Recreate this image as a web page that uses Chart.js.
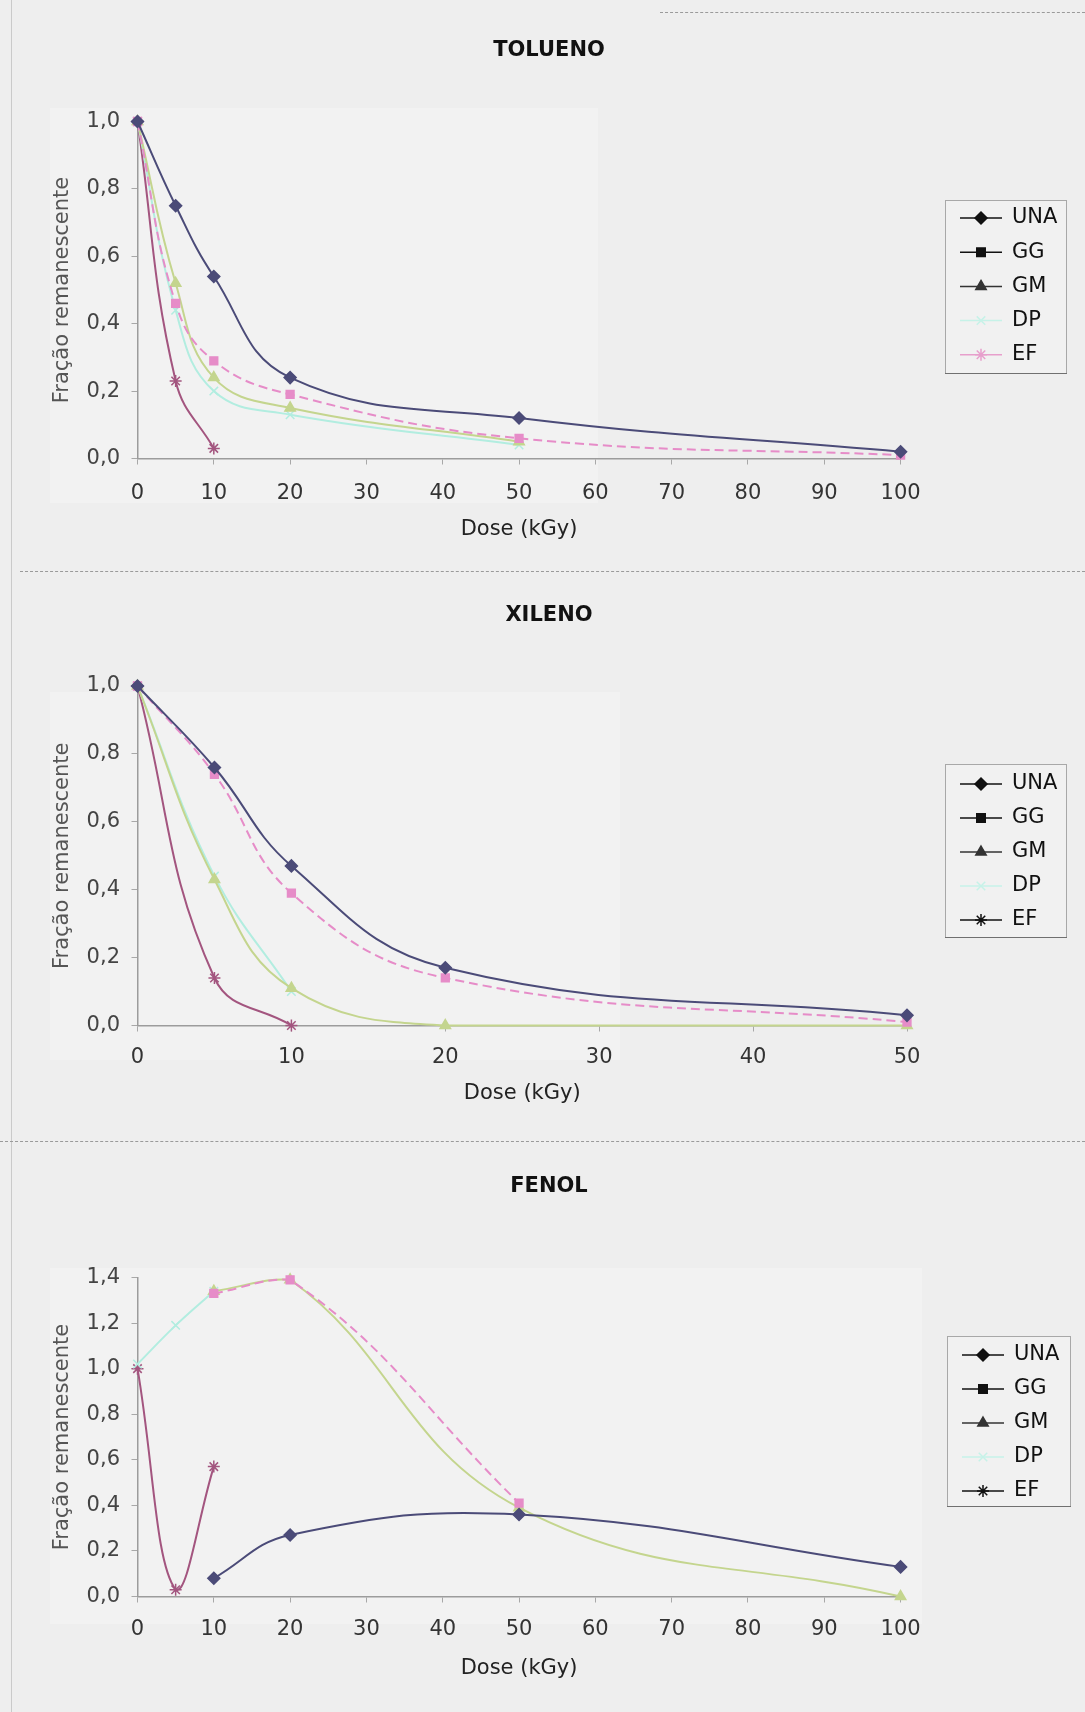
<!DOCTYPE html>
<html lang="pt">
<head>
<meta charset="utf-8">
<title>Fração remanescente x Dose</title>
<script src="https://cdn.jsdelivr.net/npm/chart.js@4.4.1/dist/chart.umd.min.js"></script>
<style>
  html, body { margin: 0; padding: 0; background: #eeeeee; }
  body { width: 1085px; height: 1712px; position: relative; overflow: hidden; }
  .painel { position: absolute; left: 0; width: 1085px; }
  .painel canvas { display: block; }
  .fundo { position: absolute; background: #f2f2f2; }
  .sep { position: absolute; left: 0; width: 1085px; height: 0; border-top: 1px dashed #9a9a9a; }
  .borda-esq { position: absolute; left: 11px; top: 0; width: 0; height: 1712px; border-left: 1px solid #cacaca; }
</style>
</head>
<body>
<div class="borda-esq"></div>
<div class="sep" style="top:12px; left:660px; width:425px;"></div>
<div class="sep" style="top:571px; left:20px; width:1065px;"></div>
<div class="sep" style="top:1141px;"></div>

<div class="fundo" style="left:50px; top:108px; width:548px; height:395px;"></div>
<div class="fundo" style="left:50px; top:692px; width:570px; height:368px;"></div>
<div class="fundo" style="left:50px; top:1268px; width:872px; height:356px;"></div>

<div class="painel" style="top:0; height:571px;"><canvas id="tolueno" width="1085" height="571"></canvas></div>
<div class="painel" style="top:571px; height:570px;"><canvas id="xileno" width="1085" height="570"></canvas></div>
<div class="painel" style="top:1141px; height:571px;"><canvas id="fenol" width="1085" height="571"></canvas></div>

<script>
// séries (mesma ordem em todos os gráficos)
const series = ['UNA', 'GG', 'GM', 'DP', 'EF'];

// TOLUENO
const dosesTolueno = [0, 5, 10, 20, 50, 100];
const toluenoUNA = [1.00, 0.75, 0.54, 0.24, 0.12, 0.02];
const toluenoGG  = [1.00, 0.46, 0.29, 0.19, 0.06, 0.01];
const toluenoGM  = [1.00, 0.52, 0.24, 0.15, 0.05, null];
const toluenoDP  = [1.00, 0.44, 0.20, 0.13, 0.04, null];
const toluenoEF  = [1.00, 0.23, 0.03, null, null, null];

// XILENO
const dosesXileno = [0, 5, 10, 20, 50];
const xilenoUNA = [1.00, 0.76, 0.47, 0.17, 0.03];
const xilenoGG  = [1.00, 0.74, 0.39, 0.14, 0.01];
const xilenoGM  = [1.00, 0.43, 0.11, 0.00, 0.00];
const xilenoDP  = [1.00, 0.44, 0.10, null, null];
const xilenoEF  = [1.00, 0.14, 0.00, null, null];

// FENOL
const dosesFenol = [0, 5, 10, 20, 50, 100];
const fenolUNA = [null, null, 0.08, 0.27, 0.36, 0.13];
const fenolGG  = [null, null, 1.33, 1.39, 0.41, null];
const fenolGM  = [null, null, 1.34, 1.39, 0.39, 0.00];
const fenolDP  = [1.02, 1.19, 1.34, null, null, null];
const fenolEF  = [1.00, 0.03, 0.57, null, null, null];

const ticksX100 = [0, 10, 20, 30, 40, 50, 60, 70, 80, 90, 100];
const ticksX50 = [0, 10, 20, 30, 40, 50];

const FONTE = '"DejaVu Sans", Verdana, sans-serif';

// cor, marcador e traço de cada série
const estilos = [
  { cor: '#4b4b78', ponto: 'rectRot',  raio: 6,   traco: [] },
  { cor: '#e68cc8', ponto: 'rect',     raio: 5.5, traco: [9, 5] },
  { cor: '#c4d58e', ponto: 'triangle', raio: 6,   traco: [] },
  { cor: '#b2ede0', ponto: 'crossRot', raio: 6,   traco: [] },
  { cor: '#a3557f', ponto: 'star',     raio: 6,   traco: [] },
];

// título centrado na página (não só na área do gráfico)
const tituloCentrado = {
  id: 'tituloCentrado',
  afterDraw(chart, args, opts) {
    const { ctx } = chart;
    ctx.save();
    ctx.fillStyle = '#111';
    ctx.font = 'bold 21px ' + FONTE;
    ctx.textAlign = 'center';
    ctx.textBaseline = 'middle';
    ctx.fillText(opts.texto, opts.x, opts.y);
    ctx.restore();
  }
};

// legenda em caixa, com linha + marcador, à direita do gráfico
const legendaCaixa = {
  id: 'legendaCaixa',
  afterDraw(chart, args, opts) {
    const { ctx } = chart;
    ctx.save();
    ctx.fillStyle = '#f1f1f1';
    ctx.fillRect(opts.x, opts.y, opts.w, opts.h);
    ctx.strokeStyle = '#a8a8a8';
    ctx.lineWidth = 1;
    ctx.strokeRect(opts.x + 0.5, opts.y + 0.5, opts.w, opts.h);
    ctx.strokeStyle = '#707070';
    ctx.beginPath();
    ctx.moveTo(opts.x, opts.y + opts.h + 0.5);
    ctx.lineTo(opts.x + opts.w + 1, opts.y + opts.h + 0.5);
    ctx.stroke();

    chart.data.datasets.forEach((ds, i) => {
      const cy = opts.y + opts.primeiro + i * opts.passo;
      const cor = opts.cores[i];
      ctx.setLineDash([]);
      ctx.strokeStyle = cor;
      ctx.fillStyle = cor;
      ctx.lineWidth = 1.5;
      ctx.beginPath();
      ctx.moveTo(opts.x + 15, cy);
      ctx.lineTo(opts.x + 57, cy);
      ctx.stroke();
      Chart.helpers.drawPoint(ctx, { pointStyle: ds.pointStyle, radius: 6, rotation: 0, borderWidth: 1.5 }, opts.x + 36, cy);
      ctx.fillStyle = '#111';
      ctx.font = '21px ' + FONTE;
      ctx.textBaseline = 'middle';
      ctx.textAlign = 'left';
      ctx.fillText(ds.label, opts.x + 67, cy);
    });
    ctx.restore();
  }
};

const virgula = v => Number(v).toFixed(1).replace('.', ',');

function montaSeries(doses, valores) {
  return series.map((nome, i) => {
    const e = estilos[i];
    return {
      label: nome,
      data: doses.map((d, k) => ({ x: d, y: valores[i][k] })).filter(p => p.y !== null),
      borderColor: e.cor,
      backgroundColor: e.cor,
      pointBackgroundColor: e.cor,
      pointBorderColor: e.cor,
      pointStyle: e.ponto,
      pointRadius: e.raio,
      pointBorderWidth: 1.5,
      borderWidth: 2,
      borderDash: e.traco,
      tension: 0.42,
      clip: false
    };
  });
}

function criaGrafico(id, cfg) {
  const ctx = document.getElementById(id).getContext('2d');
  return new Chart(ctx, {
    type: 'line',
    data: { datasets: montaSeries(cfg.doses, cfg.valores) },
    plugins: [tituloCentrado, legendaCaixa],
    options: {
      responsive: false,
      animation: false,
      layout: { padding: { top: cfg.topo, right: cfg.direita, bottom: 20, left: 0 } },
      plugins: {
        legend: { display: false },
        tooltip: { enabled: false },
        title: { display: false },
        tituloCentrado: { texto: cfg.titulo, x: 549, y: cfg.yTitulo },
        legendaCaixa: cfg.legenda
      },
      scales: {
        x: {
          type: 'linear',
          min: 0,
          max: cfg.xMax,
          afterBuildTicks: s => { s.ticks = cfg.ticksX.map(v => ({ value: v })); },
          afterFit: s => { s.height = cfg.alturaX; },
          border: { color: '#9c9c9c', width: 1.5, dash: [2, 2] },
          grid: { drawOnChartArea: false, color: '#a8a8a8', tickLength: 6 },
          ticks: { color: '#333', padding: cfg.padTickX, maxRotation: 0, font: { family: FONTE, size: 21 } },
          title: {
            display: true,
            text: 'Dose (kGy)',
            color: '#222',
            font: { family: FONTE, size: 21 },
            padding: { top: 0, bottom: cfg.padDose }
          }
        },
        y: {
          min: 0,
          max: cfg.yMax,
          ticks: {
            stepSize: 0.2,
            color: '#444',
            padding: 11.5,
            callback: virgula,
            font: { family: FONTE, size: 21 }
          },
          afterFit: s => { s.width = 137.5; },
          border: { color: '#9c9c9c', width: 1.5, dash: [2, 2] },
          grid: { drawOnChartArea: false, color: '#a8a8a8', tickLength: 6 },
          title: {
            display: true,
            text: 'Fração remanescente',
            color: '#555',
            font: { family: FONTE, size: 21 },
            padding: { top: 50.4, bottom: 0 }
          }
        }
      }
    }
  });
}

criaGrafico('tolueno', {
  titulo: 'TOLUENO', yTitulo: 51,
  doses: dosesTolueno,
  valores: [toluenoUNA, toluenoGG, toluenoGM, toluenoDP, toluenoEF],
  xMax: 100, ticksX: ticksX100, yMax: 1.0,
  topo: 121.5, direita: 184.4,
  alturaX: 92.5, padTickX: 16.2, padDose: 9.2,
  legenda: { x: 945, y: 200, w: 121, h: 173, primeiro: 18, passo: 34.2,
             cores: ['#111', '#111', '#333', '#c6f2e8', '#e79fcc'] }
});

criaGrafico('xileno', {
  titulo: 'XILENO', yTitulo: 44.5,
  doses: dosesXileno,
  valores: [xilenoUNA, xilenoGG, xilenoGM, xilenoDP, xilenoEF],
  xMax: 50, ticksX: ticksX50, yMax: 1.0,
  topo: 115, direita: 178,
  alturaX: 95.5, padTickX: 13.7, padDose: 14.6,
  legenda: { x: 945, y: 193, w: 121, h: 173, primeiro: 20, passo: 34,
             cores: ['#111', '#111', '#333', '#c6f2e8', '#111'] }
});

criaGrafico('fenol', {
  titulo: 'FENOL', yTitulo: 45.5,
  doses: dosesFenol,
  valores: [fenolUNA, fenolGG, fenolGM, fenolDP, fenolEF],
  xMax: 100, ticksX: ticksX100, yMax: 1.4,
  topo: 136.5, direita: 184.4,
  alturaX: 95.5, padTickX: 14.3, padDose: 11.1,
  legenda: { x: 947, y: 195, w: 123, h: 170, primeiro: 19, passo: 34,
             cores: ['#111', '#111', '#333', '#c6f2e8', '#111'] }
});
</script>
</body>
</html>
